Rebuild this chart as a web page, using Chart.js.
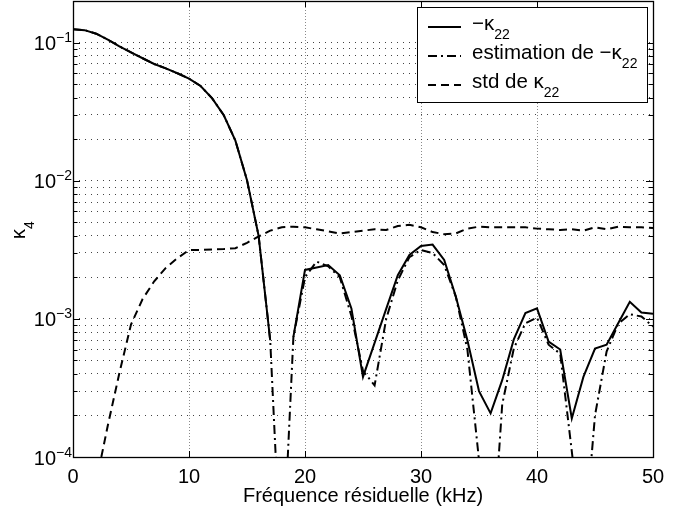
<!DOCTYPE html>
<html>
<head>
<meta charset="utf-8">
<script src="https://cdn.jsdelivr.net/npm/chart.js@4.4.1/dist/chart.umd.min.js"></script>
<style>
  html, body { margin: 0; padding: 0; background: #fff; }
  canvas { display: block; }
</style>
</head>
<body>
<canvas id="kappa-chart" width="693" height="511"></canvas>
<script>
// values, one point per kHz
let freq = [0, 1, 2, 3, 4, 5, 6, 7, 8, 9, 10, 11, 12, 13, 14, 15, 16, 17, 18, 19, 20,
            21, 22, 23, 24, 25, 26, 27, 28, 29, 30, 31, 32, 33, 34, 35, 36, 37, 38, 39, 40,
            41, 42, 43, 44, 45, 46, 47, 48, 49, 50];

// -kappa22 (null where the value is negative, nothing drawn on a log axis)
let kappa = [0.125, 0.123, 0.116, 0.105, 0.094, 0.085, 0.077, 0.070, 0.065, 0.060, 0.0548,
             0.0485, 0.0395, 0.0298, 0.0195, 0.0101, 0.0040, 0.00070, null, 0.00074, 0.00226,
             0.00235, 0.00245, 0.00207, 0.00119, 0.00038, 0.00067, 0.00118, 0.00207, 0.0029, 0.00337,
             0.00345, 0.00267, 0.00145, 0.00070, 0.00030, 0.000207, 0.00036, 0.00071, 0.00110, 0.00119,
             0.000685, 0.00060, 0.00019, 0.00038, 0.00061, 0.00065, 0.00093, 0.00133, 0.00111, 0.00109];

// estimation de -kappa22
let kappaEst = [0.125, 0.123, 0.116, 0.105, 0.094, 0.085, 0.077, 0.070, 0.065, 0.060, 0.0548,
                0.0485, 0.0395, 0.0298, 0.0195, 0.0101, 0.0040, 0.00070, 0.000012, 0.00074, 0.0020,
                0.0026, 0.0024, 0.0020, 0.00105, 0.00042, 0.00033, 0.00100, 0.0019, 0.0028, 0.00315,
                0.0030, 0.00245, 0.00145, 0.00060, 0.000095, 0.000013, 0.00024, 0.00061, 0.00093, 0.00102,
                0.00065, 0.00056, 0.00011, 0.00002, 0.00020, 0.00058, 0.00092, 0.00108, 0.00104, 0.00088];

// std de kappa22
let kappaStd = [0.000005, 0.00002, 0.000066, 0.000169, 0.000406, 0.00091, 0.00139, 0.00187, 0.00234, 0.00275, 0.00315,
                0.00315, 0.00318, 0.0032, 0.00325, 0.00355, 0.00395, 0.00435, 0.0046, 0.00465, 0.0046,
                0.00445, 0.0043, 0.00415, 0.00425, 0.00435, 0.00445, 0.0044, 0.0047, 0.0048, 0.0046,
                0.00425, 0.0041, 0.00415, 0.0045, 0.00465, 0.0046, 0.0046, 0.0046, 0.0046, 0.0045,
                0.00445, 0.0044, 0.00445, 0.00435, 0.0046, 0.00445, 0.00465, 0.0046, 0.0046, 0.00455];

let xTicks = [0, 10, 20, 30, 40, 50];
let yTicks = [1e-4, 1e-3, 1e-2, 1e-1];
let yTickExp = ['\u22124', '\u22123', '\u22122', '\u22121'];
let yMinorMult = [2, 3, 4, 5, 6, 7, 8, 9];

const FONT = "'Liberation Sans', Arial, Helvetica, sans-serif";

// text with an optional subscript after '_'
function drawSub(ctx, text, x, y, size, subSize, drop) {
    let parts = text.split('_');
    ctx.font = size + 'px ' + FONT;
    ctx.fillText(parts[0], x, y);
    let w = ctx.measureText(parts[0]).width;
    if (parts[1]) {
        ctx.font = subSize + 'px ' + FONT;
        ctx.fillText(parts[1], x + w, y + drop);
        w += ctx.measureText(parts[1]).width;
    }
    return w;
}

// matlab-like box, inner ticks, 10^n labels, y title and legend
const matlabAxes = {
    id: 'matlabAxes',
    afterDatasetsDraw(chart) {
        const ctx = chart.ctx;
        const a = chart.chartArea;
        const xs = chart.scales.x;
        const ys = chart.scales.y;
        ctx.save();
        ctx.strokeStyle = '#000';
        ctx.fillStyle = '#000';
        ctx.lineWidth = 1;
        ctx.setLineDash([]);

        // ticks inside
        ctx.beginPath();
        ys.ticks.forEach(t => {
            let py = Math.round(ys.getPixelForValue(t.value)) + 0.5;
            let len = yTicks.includes(t.value) ? 7 : 4.5;
            ctx.moveTo(a.left, py); ctx.lineTo(a.left + len, py);
            ctx.moveTo(a.right, py); ctx.lineTo(a.right - len, py);
        });
        xTicks.forEach(v => {
            let px = Math.round(xs.getPixelForValue(v)) + 0.5;
            ctx.moveTo(px, a.bottom); ctx.lineTo(px, a.bottom - 6);
            ctx.moveTo(px, a.top); ctx.lineTo(px, a.top + 6);
        });
        ctx.stroke();

        // box
        ctx.lineWidth = 1.3;
        ctx.strokeRect(Math.round(a.left) + 0.5, Math.round(a.top) + 0.5,
                       Math.round(a.right - a.left), Math.round(a.bottom - a.top));
        ctx.lineWidth = 1;

        // y tick labels 10^n
        ctx.textAlign = 'left';
        ctx.textBaseline = 'alphabetic';
        yTicks.forEach((v, i) => {
            let py = ys.getPixelForValue(v);
            ctx.font = '14px ' + FONT;
            let wSup = ctx.measureText(yTickExp[i]).width;
            ctx.font = '20px ' + FONT;
            let wBase = ctx.measureText('10').width;
            let x0 = 72 - wSup - wBase;
            ctx.fillText('10', x0, py + 7.5);
            ctx.font = '14px ' + FONT;
            ctx.fillText(yTickExp[i], x0 + wBase, py - 0.5);
        });

        // y title
        ctx.save();
        ctx.translate(25, 239);
        ctx.rotate(-Math.PI / 2);
        drawSub(ctx, chart.options.yTitle, 0, 0, 20, 14, 9);
        ctx.restore();

        // legend
        const box = { x: 417, y: 7, w: 230, h: 95 };
        ctx.fillStyle = '#fff';
        ctx.fillRect(box.x, box.y, box.w, box.h);
        ctx.strokeRect(box.x + 0.5, box.y + 0.5, box.w, box.h);
        ctx.fillStyle = '#000';
        let rowY = [27, 56, 85];
        chart.data.datasets.forEach((ds, r) => {
            ctx.save();
            ctx.lineWidth = ds.borderWidth;
            ctx.setLineDash(ds.borderDash || []);
            ctx.beginPath();
            ctx.moveTo(428, rowY[r]);
            ctx.lineTo(461, rowY[r]);
            ctx.stroke();
            ctx.restore();
            drawSub(ctx, ds.label, 472, rowY[r] + 3, 20.5, 14, 9);
        });
        ctx.restore();
    }
};

let ctx = document.getElementById('kappa-chart').getContext('2d');
let kappaChart = new Chart(ctx, {
    type: 'line',
    data: {
        datasets: [{
            label: '\u2212\u03BA_22',
            data: freq.map((f, i) => ({ x: f, y: kappa[i] })),
            borderColor: '#000',
            borderWidth: 2,
            borderDash: [],
            pointRadius: 0,
            tension: 0,
            fill: false,
            spanGaps: false
        }, {
            label: 'estimation de \u2212\u03BA_22',
            data: freq.map((f, i) => ({ x: f, y: kappaEst[i] })),
            borderColor: '#000',
            borderWidth: 2,
            borderDash: [9, 4, 2, 4],
            pointRadius: 0,
            tension: 0,
            fill: false
        }, {
            label: 'std de \u03BA_22',
            data: freq.map((f, i) => ({ x: f, y: kappaStd[i] })),
            borderColor: '#000',
            borderWidth: 2,
            borderDash: [8, 5],
            pointRadius: 0,
            tension: 0,
            fill: false
        }]
    },
    options: {
        yTitle: '\u03BA_4',
        responsive: false,
        animation: false,
        devicePixelRatio: 1,
        layout: { padding: { top: 1, right: 40, left: 0, bottom: 0 } },
        plugins: {
            legend: { display: false },
            tooltip: { enabled: false }
        },
        scales: {
            x: {
                type: 'linear',
                min: 0,
                max: 50,
                afterBuildTicks: s => { s.ticks = xTicks.map(v => ({ value: v })); },
                afterFit: s => { s.height = 54; },
                ticks: {
                    font: { size: 20, family: FONT },
                    color: '#000',
                    padding: 8,
                    maxRotation: 0
                },
                grid: { color: '#8a8a8a', lineWidth: 1, drawTicks: false },
                border: { display: false, dash: [1, 2] },
                title: {
                    display: true,
                    text: 'Fréquence résiduelle (kHz)',
                    font: { size: 20, family: FONT },
                    color: '#000',
                    padding: { top: 0, bottom: 3 }
                }
            },
            y: {
                type: 'logarithmic',
                min: 1e-4,
                max: 0.2,
                afterBuildTicks: s => {
                    let t = [];
                    yTicks.forEach(d => {
                        t.push({ value: d });
                        if (d < 0.1) yMinorMult.forEach(m => t.push({ value: +(d * m).toPrecision(3) }));
                    });
                    s.ticks = t;
                },
                afterFit: s => { s.width = 73; },
                ticks: { display: false },
                grid: { color: '#444', lineWidth: 1, drawTicks: false },
                border: { display: false, dash: [1, 5] }
            }
        }
    },
    plugins: [matlabAxes]
});
</script>
</body>
</html>
